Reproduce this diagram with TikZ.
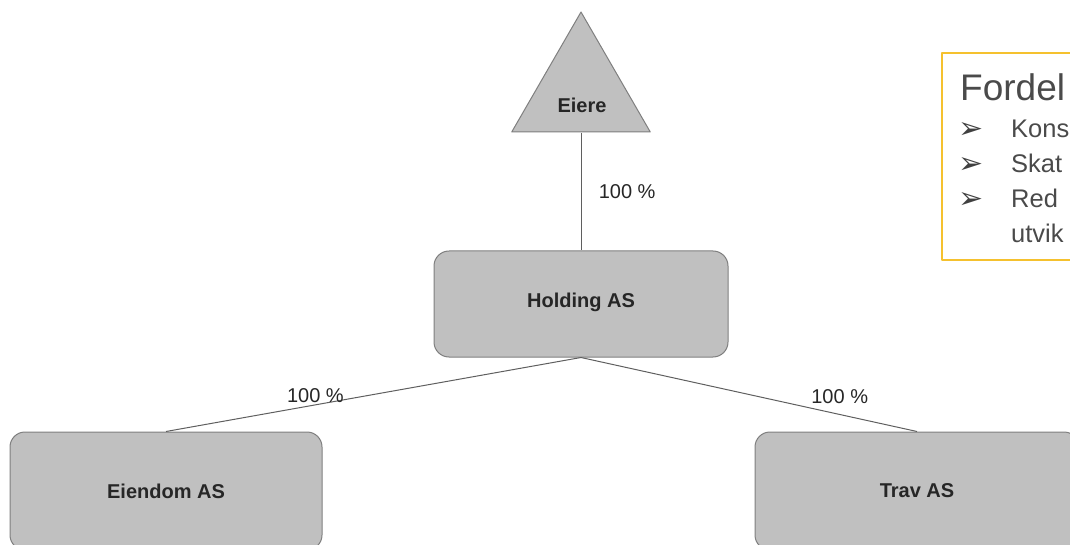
\documentclass[tikz,border=0pt]{standalone}
\usepackage{fontspec}
\setmainfont{Liberation Sans}
\newfontfamily\symfont{DejaVu Sans}
\usetikzlibrary{shapes.geometric}
\definecolor{boxfill}{HTML}{C0C0C0}
\definecolor{boxline}{HTML}{7F7F7F}
\definecolor{linkcol}{HTML}{5F5F5F}
\definecolor{notecol}{HTML}{F5C12E}
\definecolor{notetext}{HTML}{4A4A4A}
\begin{document}
\begin{tikzpicture}[x=1pt,y=-1pt,line join=round]
	\tikzset{company/.style={draw=boxline,fill=boxfill,rounded corners=15pt,line width=1pt,
			font=\fontsize{20}{24}\selectfont\bfseries,text=black!85},
		share/.style={font=\fontsize{20}{24}\selectfont,text=black!85},
		notebullet/.style={anchor=base west,inner sep=0pt,text=notetext,font=\fontsize{25.5}{30}\selectfont}}
	\useasboundingbox (0,0) rectangle (1070,545);
	\clip (0,0) rectangle (1070,545);
	% eiere
	\node[regular polygon,regular polygon sides=3,minimum size=160pt,inner sep=0pt,
		draw=boxline,fill=boxfill,line width=1pt] (eiere) at (581,92) {};
	\node[font=\fontsize{20}{24}\selectfont\bfseries,text=black!85] (eieretxt) at (582,105) {Eiere};
	% selskaper
	\node[company,minimum width=294pt,minimum height=106pt,text depth=8pt] (holding) at (581,304) {Holding AS};
	\node[company,minimum width=312pt,minimum height=118pt] (eiendom) at (166,491) {Eiendom AS};
	\node[company,minimum width=324pt,minimum height=118pt] (trav) at (917,491) {Trav AS};
	% eierandeler
	\draw[linkcol,line width=1pt] (eiere.south)--(holding.north) node[share,midway,right=14pt] {100 \%};
	\draw[linkcol,line width=1pt] (holding.south)--(eiendom.north) node[share,pos=.64,yshift=9pt] {100 \%};
	\draw[linkcol,line width=1pt] (holding.south)--(trav.north) node[share,pos=.77,yshift=18pt] {100 \%};
	% fordeler
	\draw[notecol,line width=2pt] (942,53) rectangle (1100,260);
	\node[notebullet,font=\fontsize{37}{42}\selectfont] (fordel) at (960,101) {Fordel};
	\foreach \y/\t [count=\i] in {138/Kons,173/Skat,208/Red}{
		\node[notebullet,font=\fontsize{30}{34}\selectfont\symfont,text=black!75] (pil\i) at (958,\y+1) {➢};
		\node[notebullet] (punkt\i) at (1011,\y) {\t};
	}
	\node[notebullet] (punkt4) at (1011,243) {utvik};
\end{tikzpicture}
\end{document}
